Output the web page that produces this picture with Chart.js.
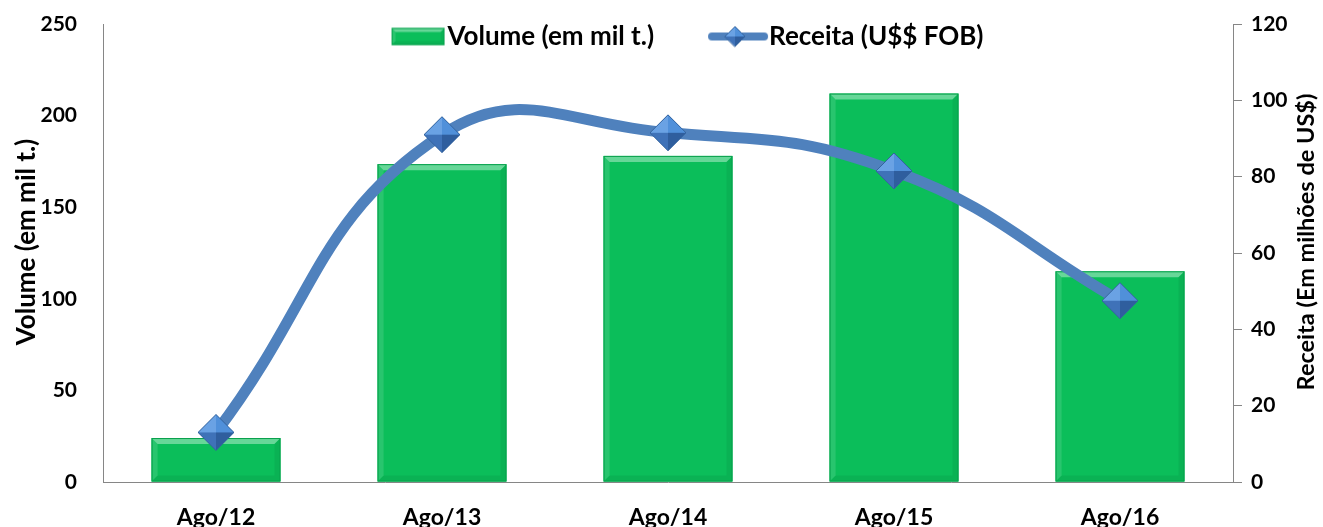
<!DOCTYPE html>
<html>
<head>
<meta charset="utf-8">
<script src="https://cdn.jsdelivr.net/npm/chart.js@4/dist/chart.umd.min.js"></script>
<style>
  html, body { margin: 0; padding: 0; background: #fff; }
  canvas { display: block; }
</style>
</head>
<body>
<canvas id="chart" width="1323" height="527"></canvas>
<script>
// données
const periods = ['Ago/12', 'Ago/13', 'Ago/14', 'Ago/15', 'Ago/16'];
const volume = [24, 173.5, 178, 212, 115];      // mil t.
const receita = [13, 91, 91.5, 81.5, 47.5];     // milhões US$
const volumeTitle = 'Volume (em mil t.)';
const receitaTitle = 'Receita (Em milhões de US$)';
const volumeLabel = 'Volume (em mil t.)';
const receitaLabel = 'Receita (U$$ FOB)';

const FONT = 'Lato, "Open Sans", sans-serif';
const GREEN = '#0BBE5A';
const BLUE = '#4F81BD';
const AXIS = '#868686';

// --- petites icônes dessinées à la main ---
function drawDiamond(ctx, cx, cy, r) {
    const facets = [
        [[cx - r, cy], [cx, cy - r], '#6AA2E4'],
        [[cx, cy - r], [cx + r, cy], '#5090DA'],
        [[cx + r, cy], [cx, cy + r], '#2F5E9E'],
        [[cx, cy + r], [cx - r, cy], '#3F72B8']
    ];
    facets.forEach(f => {
        ctx.beginPath();
        ctx.moveTo(f[0][0], f[0][1]);
        ctx.lineTo(f[1][0], f[1][1]);
        ctx.lineTo(cx, cy);
        ctx.closePath();
        ctx.fillStyle = f[2];
        ctx.fill();
    });
    ctx.beginPath();
    ctx.moveTo(cx - r, cy); ctx.lineTo(cx, cy - r); ctx.lineTo(cx + r, cy); ctx.lineTo(cx, cy + r);
    ctx.closePath();
    ctx.strokeStyle = '#34649F';
    ctx.lineWidth = 1;
    ctx.stroke();
}

function makeDiamond(r) {
    const c = document.createElement('canvas');
    c.width = c.height = 2 * r + 2;
    drawDiamond(c.getContext('2d'), r + 1, r + 1, r);
    return c;
}

function bevelRect(ctx, left, top, right, bottom, b) {
    ctx.fillStyle = GREEN;
    ctx.fillRect(left, top, right - left, bottom - top);
    const sides = [
        [[left, top], [right, top], [right - b, top + b], [left + b, top + b], 'rgba(255,255,255,0.38)'],
        [[left, top], [left + b, top + b], [left + b, bottom - b], [left, bottom], 'rgba(255,255,255,0.12)'],
        [[right, top], [right - b, top + b], [right - b, bottom - b], [right, bottom], 'rgba(0,0,0,0.06)'],
        [[left, bottom], [left + b, bottom - b], [right - b, bottom - b], [right, bottom], 'rgba(0,0,0,0.06)']
    ];
    sides.forEach(s => {
        ctx.beginPath();
        ctx.moveTo(s[0][0], s[0][1]);
        for (let i = 1; i < 4; i++) ctx.lineTo(s[i][0], s[i][1]);
        ctx.closePath();
        ctx.fillStyle = s[4];
        ctx.fill();
    });
    ctx.strokeStyle = '#08A04C';
    ctx.lineWidth = 1;
    ctx.strokeRect(left + 0.5, top + 0.5, right - left - 1, bottom - top - 1);
}

// icônes de légende : 128 px de large, centrées sur la case de Chart.js
function makeBarIcon() {
    const c = document.createElement('canvas');
    c.width = 128; c.height = 28;
    bevelRect(c.getContext('2d'), 71, 5.5, 124, 22.5, 4);
    return c;
}

function makeLineIcon() {
    const c = document.createElement('canvas');
    c.width = 128; c.height = 28;
    const ctx = c.getContext('2d');
    ctx.strokeStyle = BLUE;
    ctx.lineWidth = 8;
    ctx.lineCap = 'round';
    ctx.beginPath();
    ctx.moveTo(70, 14); ctx.lineTo(122, 14);
    ctx.stroke();
    drawDiamond(ctx, 93, 14, 10);
    return c;
}

const pointDiamond = makeDiamond(18);
const legendIcons = [makeBarIcon(), makeLineIcon()];

// relief des barres, à partir des éléments calculés par Chart.js
const barBevel = {
    id: 'barBevel',
    afterDatasetDraw(chart, args) {
        if (args.index !== 0) return;
        const ctx = chart.ctx;
        ctx.save();
        args.meta.data.forEach(bar => {
            const p = bar.getProps(['x', 'y', 'base', 'width'], true);
            bevelRect(ctx, p.x - p.width / 2, p.y, p.x + p.width / 2, p.base, 6);
        });
        ctx.restore();
    }
};

// la légende est posée par-dessus la zone du graphique, comme dans Excel
const legendOverlay = {
    id: 'legendOverlay',
    afterLayout(chart) {
        const lg = chart.legend;
        if (!lg) return;
        lg.top = 21.5;
        lg.bottom = 58;
        lg.height = lg.bottom - lg.top;
    }
};

// titres des axes (le titre de droite se lit de bas en haut)
const axisTitles = {
    id: 'axisTitles',
    afterDraw(chart) {
        const ctx = chart.ctx;
        const area = chart.chartArea;
        const midY = (area.top + area.bottom) / 2 - 11;
        ctx.save();
        ctx.fillStyle = '#000';
        ctx.textAlign = 'center';
        ctx.textBaseline = 'middle';
        [[27, volumeTitle, 26], [chart.width - 17, receitaTitle, 23.5]].forEach(([x, text, size]) => {
            ctx.save();
            ctx.font = 'bold ' + size + 'px ' + FONT;
            ctx.translate(x, midY);
            ctx.rotate(-Math.PI / 2);
            ctx.fillText(text, 0, 0);
            ctx.restore();
        });
        ctx.restore();
    }
};

// les axes verticaux ne réservent pas de marge pour leurs libellés extrêmes
function fixVertical(width) {
    return scale => {
        scale.width = width;
        scale.paddingTop = 0;
        scale.paddingBottom = 0;
    };
}

function draw() {
    const tickFont = { family: FONT, size: 21, weight: 'bold' };
    new Chart(document.getElementById('chart'), {
        data: {
            labels: periods,
            datasets: [
                {
                    type: 'bar',
                    label: volumeLabel,
                    data: volume,
                    yAxisID: 'y',
                    backgroundColor: GREEN,
                    borderWidth: 0,
                    barPercentage: 0.57,
                    categoryPercentage: 1,
                    order: 2
                },
                {
                    type: 'line',
                    label: receitaLabel,
                    data: receita,
                    yAxisID: 'y1',
                    borderColor: BLUE,
                    backgroundColor: BLUE,
                    borderWidth: 11,
                    tension: 0.45,
                    pointStyle: pointDiamond,
                    pointRadius: 18,
                    fill: false,
                    clip: false,
                    order: 1
                }
            ]
        },
        options: {
            responsive: false,
            animation: false,
            layout: { autoPadding: false, padding: { top: 23, left: 0, right: 5, bottom: 0 } },
            plugins: {
                tooltip: { enabled: false },
                legend: {
                    position: 'top',
                    maxHeight: 1,
                    labels: {
                        usePointStyle: true,
                        pointStyleWidth: 100,
                        padding: 2,
                        color: '#000',
                        font: { family: FONT, size: 26, weight: 'bold' },
                        sort: (a, b) => a.datasetIndex - b.datasetIndex,
                        generateLabels(chart) {
                            const items = Chart.defaults.plugins.legend.labels.generateLabels(chart);
                            items.forEach(it => { it.pointStyle = legendIcons[it.datasetIndex]; });
                            return items;
                        }
                    }
                }
            },
            scales: {
                x: {
                    grid: { display: false },
                    border: { display: true, color: AXIS, width: 1 },
                    ticks: { color: '#000', font: { family: FONT, size: 23, weight: 'bold' }, padding: 14 },
                    afterFit(scale) { scale.height = 45; }
                },
                y: {
                    position: 'left',
                    min: 0,
                    max: 250,
                    // marques invisibles : elles ne servent qu'à écarter les libellés de l'axe
                    grid: { drawOnChartArea: false, drawTicks: true, tickLength: 26, color: 'rgba(0,0,0,0)' },
                    border: { display: true, color: AXIS, width: 1 },
                    ticks: { stepSize: 50, color: '#000', font: tickFont, padding: 0 },
                    afterFit: fixVertical(103)
                },
                y1: {
                    position: 'right',
                    min: 0,
                    max: 120,
                    grid: { drawOnChartArea: false, drawTicks: true, tickLength: 9, color: AXIS },
                    border: { display: true, color: AXIS, width: 1 },
                    ticks: { stepSize: 20, color: '#000', font: tickFont, padding: 9 },
                    afterFit: fixVertical(85)
                }
            }
        },
        plugins: [barBevel, legendOverlay, axisTitles]
    });
}

if (document.fonts && document.fonts.load) {
    document.fonts.load('bold 21px Lato').then(draw, draw);
} else {
    draw();
}
</script>
</body>
</html>
